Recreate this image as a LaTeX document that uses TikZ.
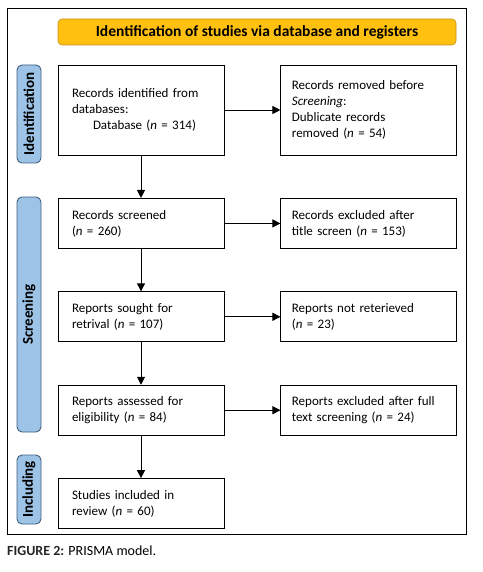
\documentclass[tikz,border=0pt]{standalone}
\usepackage{fontspec}
\setmainfont{Carlito}
\usetikzlibrary{arrows.meta, positioning}

\definecolor{titlegold}{HTML}{FFC010}
\definecolor{titleedge}{HTML}{C09020}
\definecolor{phaseblue}{HTML}{9DC3E6}
\definecolor{phaseedge}{HTML}{3F5F7F}

\begin{document}
\begin{tikzpicture}[
    x=1pt, y=1pt,
    node distance = 42.5pt and 56pt,
    recbox/.style = {
        rectangle, draw=black, line width=0.9pt, fill=white,
        minimum width=166pt, minimum height=50pt,
        inner xsep=14pt, text width=138pt, align=left,
        font=\fontsize{13}{16}\selectfont
    },
    exbox/.style = {
        recbox, minimum width=176pt, inner xsep=11pt, text width=154pt
    },
    phase/.style = {
        rectangle, rounded corners=5pt, rotate=90,
        draw=phaseedge, line width=0.9pt, fill=phaseblue,
        minimum height=24pt, inner sep=0pt,
        font=\fontsize{15}{17}\selectfont\bfseries
    },
    header/.style = {
        rectangle, rounded corners=4pt,
        draw=titleedge, line width=0.6pt, fill=titlegold,
        minimum width=398pt, minimum height=26pt,
        font=\fontsize{15.5}{17}\selectfont\bfseries
    },
    arrow/.style = {-{Triangle[length=8pt, width=8pt]}, line width=0.9pt}
]
\useasboundingbox (0,0) rectangle (482,-572);

% Rahmen
\draw[line width=0.9pt] (7,-8) rectangle (466,-534);

% Titel
\node[header] (title) at (257,-32) {Identification of studies via database and registers};

% Phasen
\node[phase, minimum width=98pt] (identlbl) at (29,-114) {Identification};
\node[phase, minimum width=235pt] (screenlbl) at (29,-314.5) {Screening};
\node[phase, minimum width=69pt] (inclbl) at (29,-489.5) {Including};

% Linke Spalte
\node[recbox, minimum height=90pt] (db) at (141,-110)
    {Records identified from\\
     databases:\\
     \hspace*{21pt}Database (\textit{n} = 314)};
\node[recbox, below=of db] (screened)
    {Records screened\\
     (\textit{n} = 260)};
\node[recbox, below=of screened] (sought)
    {Reports sought for\\
     retrival (\textit{n} = 107)};
\node[recbox, below=of sought] (assessed)
    {Reports assessed for\\
     eligibility (\textit{n} = 84)};
\node[recbox, below=of assessed] (included)
    {Studies included in\\
     review (\textit{n} = 60)};

% Rechte Spalte
\node[exbox, minimum height=90pt, right=of db] (dup)
    {Records removed before\\
     \textit{Screening}:\\
     Dublicate records\\
     removed (\textit{n} = 54)};
\node[exbox, right=of screened] (title-ex)
    {Records excluded after\\
     title screen (\textit{n} = 153)};
\node[exbox, right=of sought] (notret)
    {Reports not reterieved\\
     (\textit{n} = 23)};
\node[exbox, right=of assessed] (fulltext)
    {Reports excluded after full\\
     text screening (\textit{n} = 24)};

% Pfeile
\draw[arrow] (db)       -- (dup);
\draw[arrow] (screened) -- (title-ex);
\draw[arrow] (sought)   -- (notret);
\draw[arrow] (assessed) -- (fulltext);
\draw[arrow] (db)       -- (screened);
\draw[arrow] (screened) -- (sought);
\draw[arrow] (sought)   -- (assessed);
\draw[arrow] (assessed) -- (included);

% Legende
\node[anchor=base west, inner sep=0pt, font=\fontsize{14}{16}\selectfont] (caption) at (7,-555)
    {\textcolor{black!85}{\textbf{FIGURE 2:}} PRISMA model.};
\end{tikzpicture}
\end{document}
